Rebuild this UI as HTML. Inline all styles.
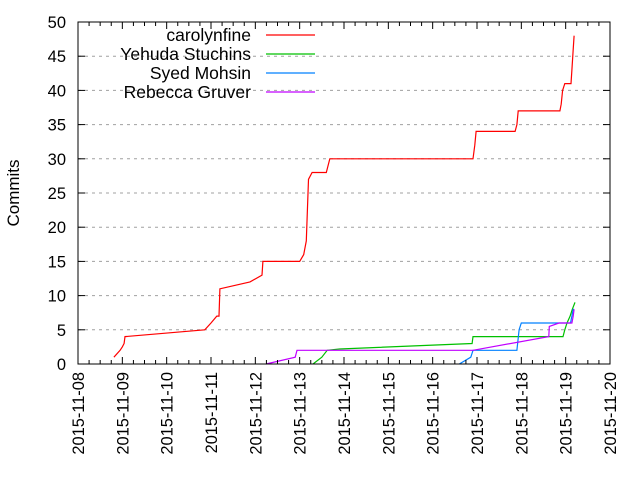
<!DOCTYPE html>
<html><head><meta charset="utf-8"><style>
body{margin:0;background:#fff}
svg{display:block;font-family:"Liberation Sans",sans-serif}
</style></head><body>
<svg id="chart" width="640" height="480" viewBox="0 0 640 480" xmlns="http://www.w3.org/2000/svg">
<rect width="640" height="480" fill="#fff"/>
<g id="grid"></g><g id="series"></g><g id="axes"></g><g id="legend"></g>
<text transform="translate(19,193) rotate(-90)" text-anchor="middle" font-size="17">Commits</text>
</svg>
<script>
const dateLabels=["2015-11-08","2015-11-09","2015-11-10","2015-11-11","2015-11-12","2015-11-13","2015-11-14","2015-11-15","2015-11-16","2015-11-17","2015-11-18","2015-11-19","2015-11-20"];
const yTicks=[0,5,10,15,20,25,30,35,40,45,50];
const seriesNames=["carolynfine","Yehuda Stuchins","Syed Mohsin","Rebecca Gruver"];
const seriesColors=["#ff0000","#00c000","#0080ff","#c000ff"];
const carolDays=[0.81,0.95,1.0,1.04,1.06,2.86,3.0,3.13,3.18,3.2,3.88,4.15,4.17,5.0,5.09,5.15,5.2,5.28,5.6,5.68,8.91,8.95,8.98,9.86,9.9,9.93,10.87,10.9,10.93,10.98,11.12,11.14,11.17,11.19];
const carolVals=[1,2,2.5,3,4,5,6,7,7,11,12,13,15,15,16,18,27,28,28,30,30,32,34,34,35,37,37,38,40,41,41,43,46,48];
const yehudaDays=[5.3,5.5,5.62,5.9,8.89,8.91,10.94,10.98,11.03,11.1,11.15,11.21];
const yehudaVals=[0,1,2,2.2,3,4,4,5,6,7,8,9];
const syedDays=[8.6,8.86,8.91,9.9,9.95,10.0,11.11,11.14,11.17,11.19];
const syedVals=[0,1,2,2,5,6,6,7,8,8];
const rebeccaDays=[4.24,4.9,4.94,8.91,10.62,10.63,10.85,11.14,11.17,11.19];
const rebeccaVals=[0,1,2,2,4,5.5,6,6,7,8];
const X0=78,X1=610,Y0=364,Y1=22;
const xs=d=>X0+d*(X1-X0)/12;
const ys=v=>Y0-v*(Y0-Y1)/50;
const NS="http://www.w3.org/2000/svg";
function mk(t,a,p){const e=document.createElementNS(NS,t);for(const k in a)e.setAttribute(k,a[k]);p.appendChild(e);return e;}
const grid=document.getElementById('grid'),axes=document.getElementById('axes'),ser=document.getElementById('series'),leg=document.getElementById('legend');
yTicks.forEach(v=>{
 if(v>0&&v<50){const g=mk('line',{x1:X0,x2:X1,y1:ys(v),y2:ys(v),stroke:'#a0a0a0','stroke-dasharray':'3,4','stroke-width':1},grid);
 
 }
 mk('line',{x1:X0,x2:X0+7,y1:ys(v),y2:ys(v),stroke:'#000'},axes);
 mk('line',{x1:X1,x2:X1-7,y1:ys(v),y2:ys(v),stroke:'#000'},axes);
 const t=mk('text',{x:X0-12,y:ys(v)+6,'text-anchor':'end','font-size':16.5},axes);t.textContent=v;
 
 
});
for(let i=0;i<=48;i++){const d=i/4,L=(i%4===0)?7:4;
 mk('line',{x1:xs(d),x2:xs(d),y1:Y0,y2:Y0-L,stroke:'#000'},axes);
 mk('line',{x1:xs(d),x2:xs(d),y1:Y1,y2:Y1+L,stroke:'#000'},axes);}
dateLabels.forEach((s,i)=>{const t=mk('text',{transform:`translate(${xs(i)+6},372) rotate(-90)`,'text-anchor':'end','font-size':16.4},axes);t.textContent=s;
 
 });
const fr=mk('rect',{x:X0,y:Y1,width:X1-X0,height:Y0-Y1,fill:'none',stroke:'#000'},axes);


const all=[[carolDays,carolVals],[yehudaDays,yehudaVals],[syedDays,syedVals],[rebeccaDays,rebeccaVals]];
all.forEach(([D,V],k)=>{
 const p=mk('polyline',{points:D.map((d,i)=>xs(d).toFixed(1)+','+ys(V[i]).toFixed(1)).join(' '),fill:'none',stroke:seriesColors[k],'stroke-width':1.2},ser);
 
 
 const y=35+k*19;
 const t=mk('text',{x:251,y:y+6,'text-anchor':'end','font-size':17.5},leg);t.textContent=seriesNames[k];
 
 
 const l=mk('line',{x1:266,x2:315,y1:y,y2:y,stroke:seriesColors[k],'stroke-width':1.2},leg);
 
 
});
</script>
</body></html>
